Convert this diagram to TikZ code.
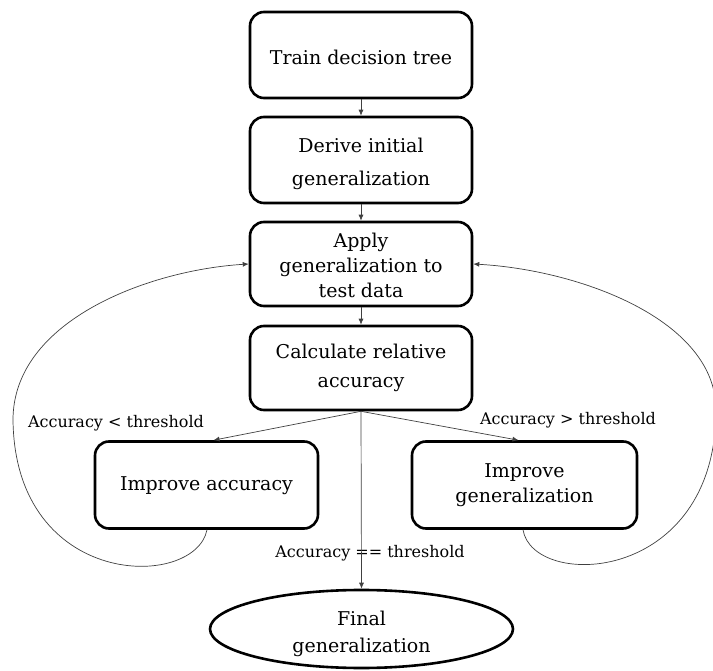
\documentclass[tikz,border=0pt]{standalone}
\usepackage{fontspec}
\setmainfont{DejaVu Serif}
\usetikzlibrary{arrows.meta,shapes.geometric}
\begin{document}
\begin{tikzpicture}[x=1pt,y=-1pt,
  stepbox/.style={draw,line width=2.6pt,rounded corners=14pt,inner sep=0pt},
  endbox/.style={draw,ellipse,line width=2.6pt,inner sep=0pt},
  boxtext/.style={align=center,font=\fontsize{19}{25}\selectfont,inner sep=0pt},
  flow/.style={draw=black!75,line width=0.7pt,-{Latex[length=6pt,width=5pt]}},
  cond/.style={font=\fontsize{16}{19}\selectfont,inner sep=0pt}]
\useasboundingbox (0,0) rectangle (713,671);
% process boxes
\node[stepbox,minimum width=222pt,minimum height=86pt] (train) at (361,55) {};
\node[stepbox,minimum width=222pt,minimum height=86pt] (derive) at (361,160) {};
\node[stepbox,minimum width=222pt,minimum height=84pt] (apply) at (361,264) {};
\node[stepbox,minimum width=222pt,minimum height=84pt] (calc) at (361,368) {};
\node[stepbox,minimum width=223pt,minimum height=87pt] (impacc) at (206.5,485) {};
\node[stepbox,minimum width=225pt,minimum height=87pt] (impgen) at (524.5,485) {};
\node[endbox,minimum width=303pt,minimum height=78pt] (final) at (361.5,629) {};

% box captions
\node[boxtext] (trainT) at (361,57) {Train decision tree};
\node[boxtext,font=\fontsize{19}{33}\selectfont] (deriveT) at (361,164) {Derive initial\\generalization};
\node[boxtext] (applyT) at (361,265) {Apply\\generalization to\\test data};
\node[boxtext,font=\fontsize{19}{29}\selectfont] (calcT) at (361,368) {Calculate relative\\accuracy};
\node[boxtext] (impaccT) at (206.5,486) {Improve accuracy};
\node[boxtext] (impgenT) at (524.5,485) {Improve\\generalization};
\node[boxtext,font=\fontsize{19}{27}\selectfont] (finalT) at (361.5,634) {Final\\generalization};

% branch conditions
\node[cond] (lt) at (116,423) {Accuracy < threshold};
\node[cond] (gt) at (568,420) {Accuracy > threshold};
\node[cond] (eq) at (370,553) {Accuracy == threshold};

\draw[flow] (train) -- (derive);
\draw[flow] (derive) -- (apply);
\draw[flow] (apply) -- (calc);
\draw[flow] (calc.south) -- ([xshift=7pt]impacc.north);
\draw[flow] (calc.south) -- ([xshift=-6pt]impgen.north);
\draw[flow] (calc.south) -- (final.north);

% feedback loops back to the evaluation step
\draw[flow] ([xshift=0.5pt]impacc.south) .. controls (195,590) and (15,590) .. (13,420)
  .. controls (13,320) and (150,270) .. (apply.west);
\draw[flow] ([xshift=-1.5pt]impgen.south) .. controls (533,590) and (716,585) .. (716,410)
  .. controls (716,320) and (580,270) .. (apply.east);
\end{tikzpicture}
\end{document}
